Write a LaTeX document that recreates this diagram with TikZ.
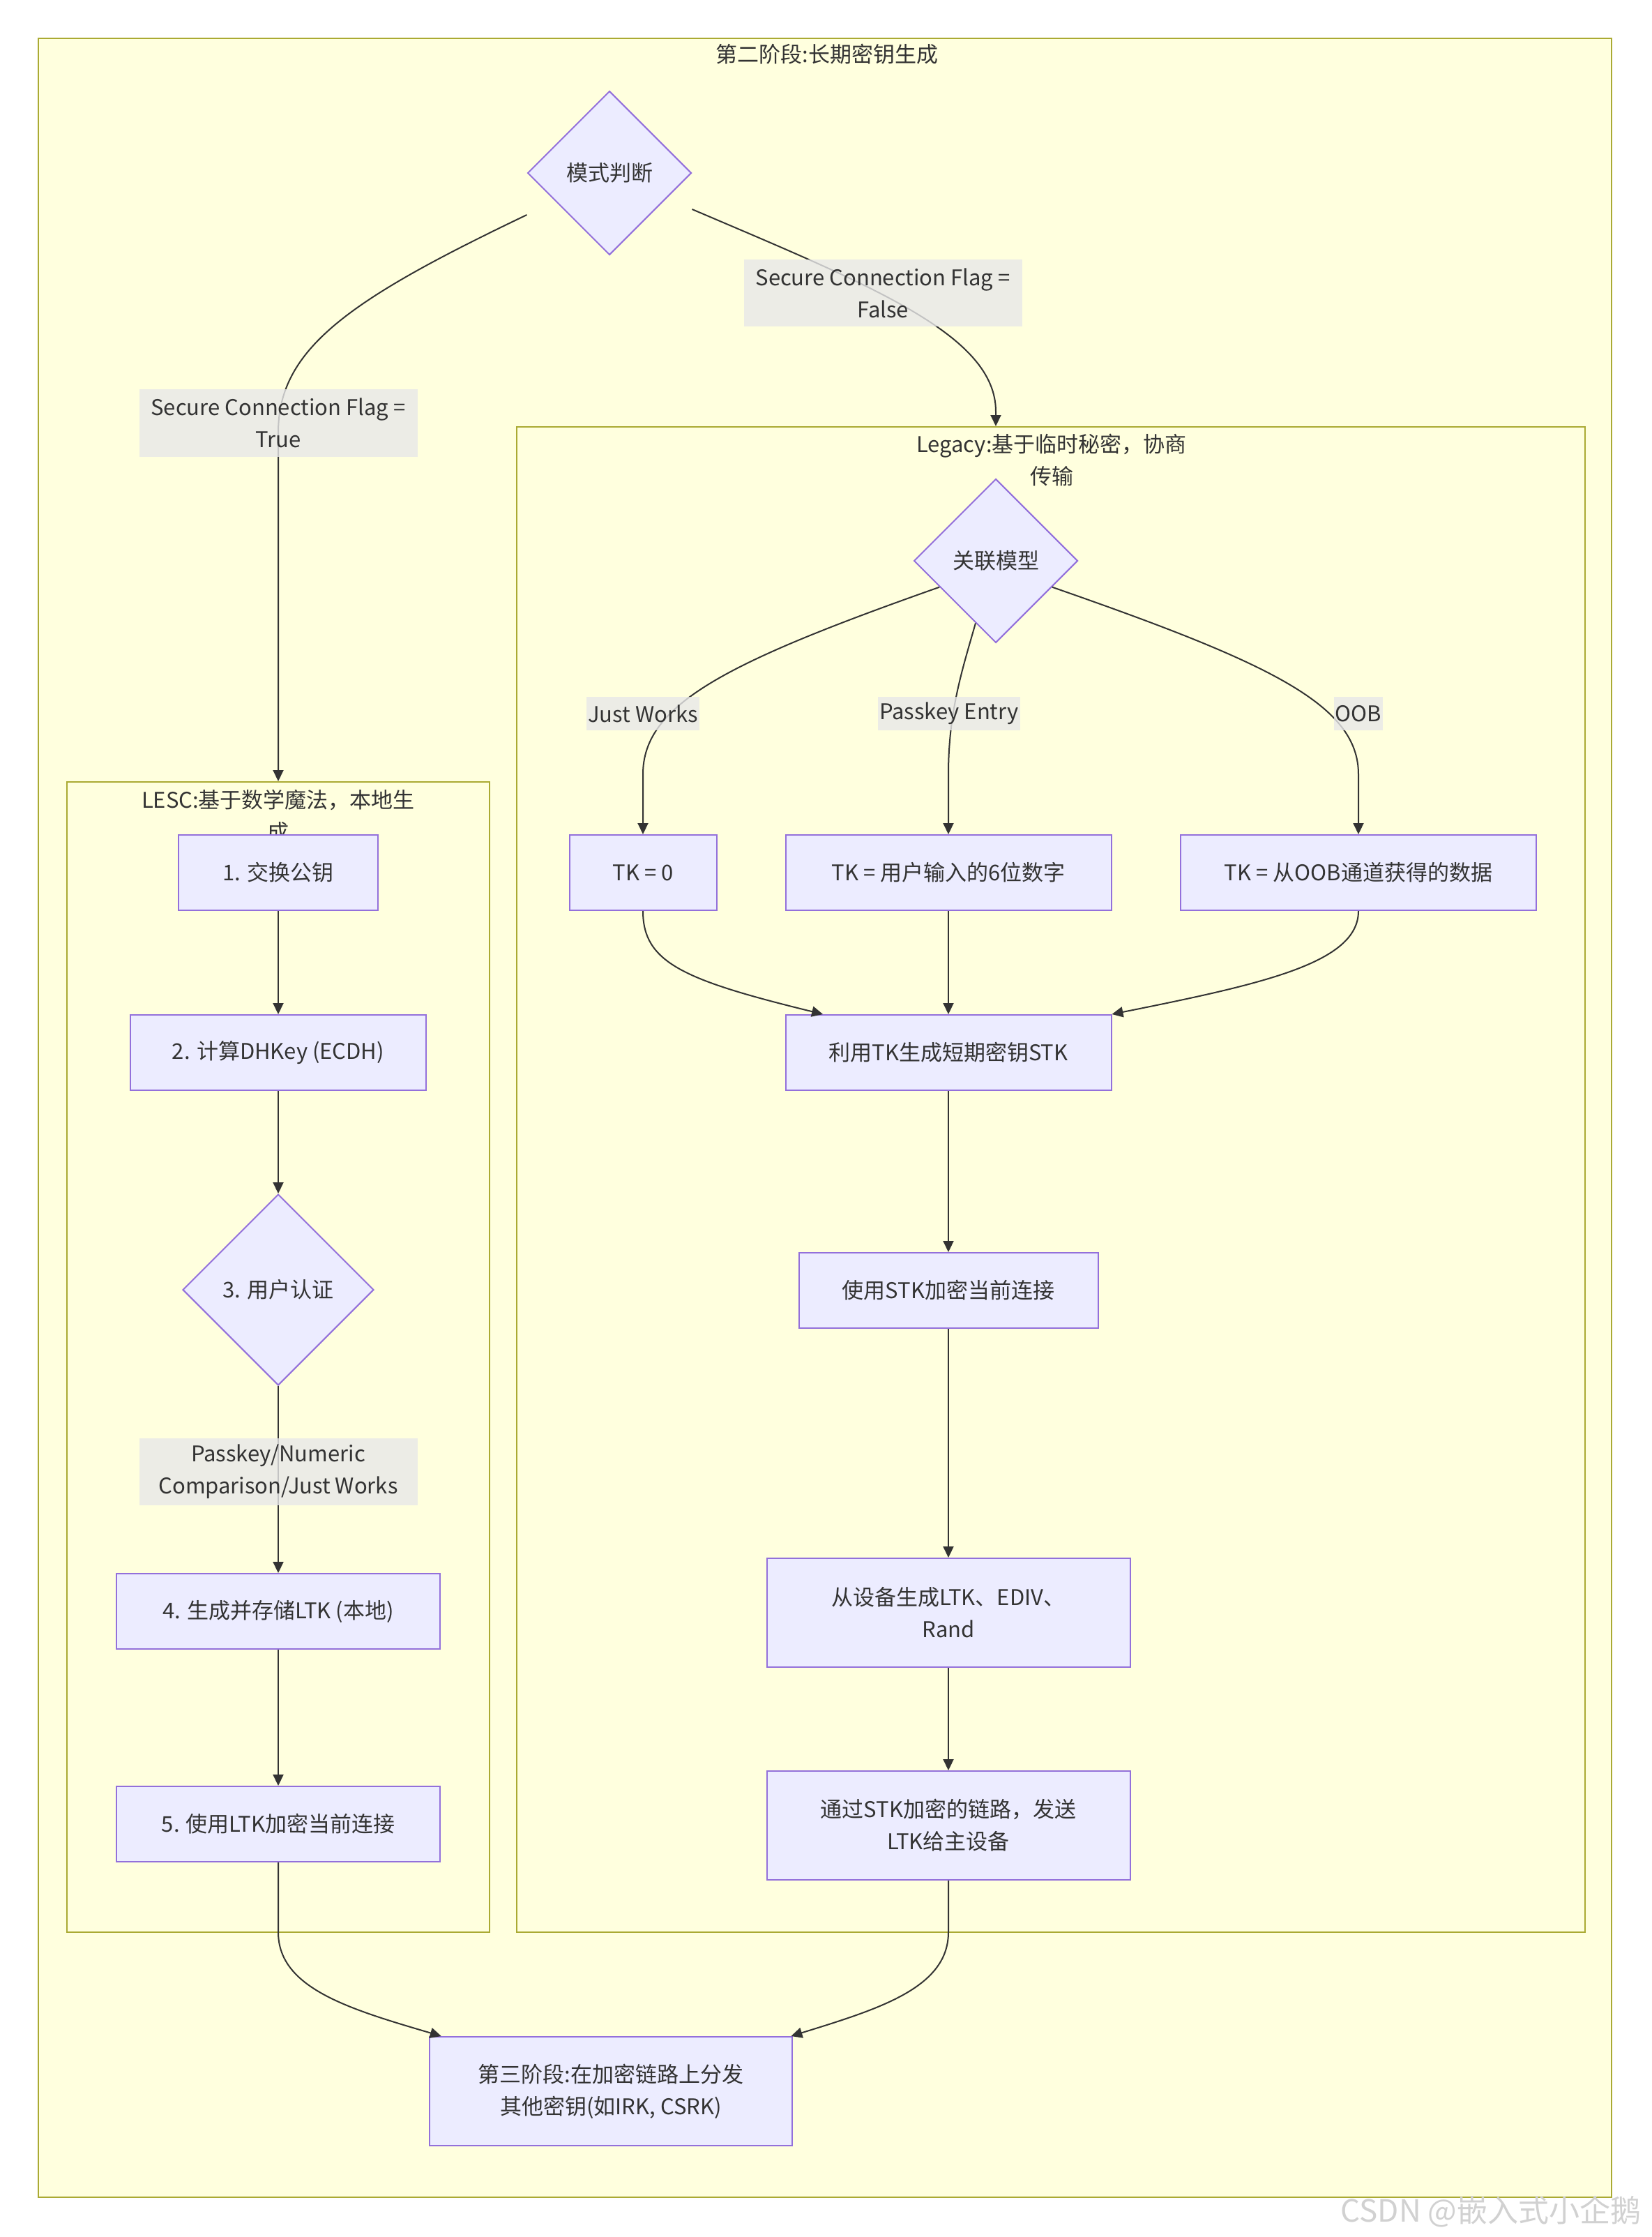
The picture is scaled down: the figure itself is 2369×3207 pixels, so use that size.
\documentclass[tikz,border=0pt]{standalone}
\usepackage{fontspec}
\setmainfont{Noto Sans CJK SC}
\usetikzlibrary{shapes.geometric,arrows.meta}

\definecolor{clbg}{HTML}{FFFFDE}
\definecolor{clline}{HTML}{AAAA33}
\definecolor{ndbg}{HTML}{ECECFF}
\definecolor{ndline}{HTML}{9370DB}
\definecolor{txt}{HTML}{333333}
\definecolor{lblbg}{HTML}{E8E8E8}

\begin{document}
\begin{tikzpicture}[x=0.5pt,y=-0.5pt,
    every node/.style={font=\fontsize{15.5pt}{23pt}\selectfont, text=txt},
    cluster/.style={draw=clline, fill=clbg, line width=1pt, inner sep=0pt},
    box/.style={draw=ndline, fill=ndbg, line width=1pt, inner sep=0pt, minimum height=54pt, align=center},
    decision/.style={diamond, aspect=1, draw=ndline, fill=ndbg, line width=1pt, inner sep=0pt},
    lbl/.style={fill=lblbg, fill opacity=0.8, text opacity=1, inner sep=0pt, inner xsep=1pt, align=center},
    arr/.style={draw=txt, line width=1pt, -{Triangle[length=8pt,width=7.5pt]}}]
    \path[use as bounding box, fill=white] (0,0) rectangle (2369,3207);

    \node[cluster, minimum width=1128pt, minimum height=1547.5pt] (phase2) at (1183,1602.5) {};
    \node (p2title) at (1186,78) {第二阶段:长期密钥生成};
    \node[cluster, minimum width=303pt, minimum height=824.5pt] (lesc) at (399,1945.5) {};
    \node[cluster, minimum width=766pt, minimum height=1079pt] (legacy) at (1507,1691) {};
    \node[align=center] (lesctitle) at (399,1170) {LESC:基于数学魔法，本地生\\成};
    \node[align=center] (legacytitle) at (1508,660) {Legacy:基于临时秘密，协商\\传输};

    \node[decision, minimum width=117.5pt, minimum height=117.5pt] (d1) at (874,248) {模式判断};

    \node[box, minimum width=143pt] (l1) at (399,1251) {1. 交换公钥};
    \node[box, minimum width=212pt] (l2) at (399,1509) {2. 计算DHKey (ECDH)};
    \node[decision, minimum width=137pt, minimum height=137pt] (l3) at (399,1849) {3. 用户认证};
    \node[box, minimum width=232pt] (l4) at (399,2310) {4. 生成并存储LTK (本地)};
    \node[box, minimum width=232pt] (l5) at (399,2615) {5. 使用LTK加密当前连接};

    \node[decision, minimum width=117.5pt, minimum height=117.5pt] (g1) at (1428,804) {关联模型};
    \node[box, minimum width=105.5pt] (t1) at (922,1251) {TK = 0};
    \node[box, minimum width=233.5pt] (t2) at (1360,1251) {TK = 用户输入的6位数字};
    \node[box, minimum width=255pt] (t3) at (1948,1251) {TK = 从OOB通道获得的数据};
    \node[box, minimum width=233.5pt] (s1) at (1360,1509) {利用TK生成短期密钥STK};
    \node[box, minimum width=214.5pt] (s2) at (1360,1850) {使用STK加密当前连接};
    \node[box, minimum width=260.5pt, minimum height=78pt] (s3) at (1360,2312) {从设备生成LTK、EDIV、\\Rand};
    \node[box, minimum width=260.5pt, minimum height=78pt] (s4) at (1360,2617) {通过STK加密的链路，发送\\LTK给主设备};

    \node[box, minimum width=260pt, minimum height=78pt] (f) at (876,2998) {第三阶段:在加密链路上分发\\其他密钥(如IRK, CSRK)};

    \foreach \a/\b in {l1/l2,l2/l3,l3/l4,l4/l5,t2/s1,s1/s2,s2/s3,s3/s4}
    \draw[arr] (\a) -- (\b);
    \draw[arr] ([yshift=-30pt]d1.west) .. controls (500,430) and (399,500) .. (399,620) -- (lesc.north);
    \draw[arr] ([yshift=-26pt]d1.east) .. controls (1250,410) and (1428,480) .. (1428,590) -- (legacy.north -| g1);
    \draw[arr] (g1.205) .. controls (1040,950) and (922,1010) .. (922,1110) -- (t1);
    \draw[arr] (g1.252) .. controls (1380,960) and (1360,1020) .. (1360,1110) -- (t2);
    \draw[arr] (g1.-25) .. controls (1820,950) and (1948,1010) .. (1948,1110) -- (t3);
    \draw[arr] (t1) .. controls (922,1380) and (980,1405) .. (s1.163);
    \draw[arr] (t3) .. controls (1948,1380) and (1814,1410) .. (s1.north east);
    \draw[arr] (l5) -- (399,2770) .. controls (399,2850) and (500,2880) .. (f.162);
    \draw[arr] (s4) -- (1360,2770) .. controls (1360,2850) and (1260,2880) .. (f.17);

    \node[lbl, minimum width=199.5pt, minimum height=48.5pt] (sctrue) at (399,606) {Secure Connection Flag =\\True};
    \node[lbl, minimum width=199.5pt, minimum height=48pt] (scfalse) at (1266,420) {Secure Connection Flag =\\False};
    \node[lbl, minimum height=24pt] (jw) at (922,1023) {Just Works};
    \node[lbl, minimum height=24pt] (pe) at (1361,1023) {Passkey Entry};
    \node[lbl, minimum height=24pt] (oob) at (1948,1023) {OOB};
    \node[lbl, minimum width=199.5pt, minimum height=48pt] (auth) at (399,2110) {Passkey/Numeric\\Comparison/Just Works};

    \node[text=black!18, font=\fontsize{22pt}{26pt}\selectfont] (wm) at (2138,3171) {CSDN @嵌入式小企鹅};
\end{tikzpicture}
\end{document}
